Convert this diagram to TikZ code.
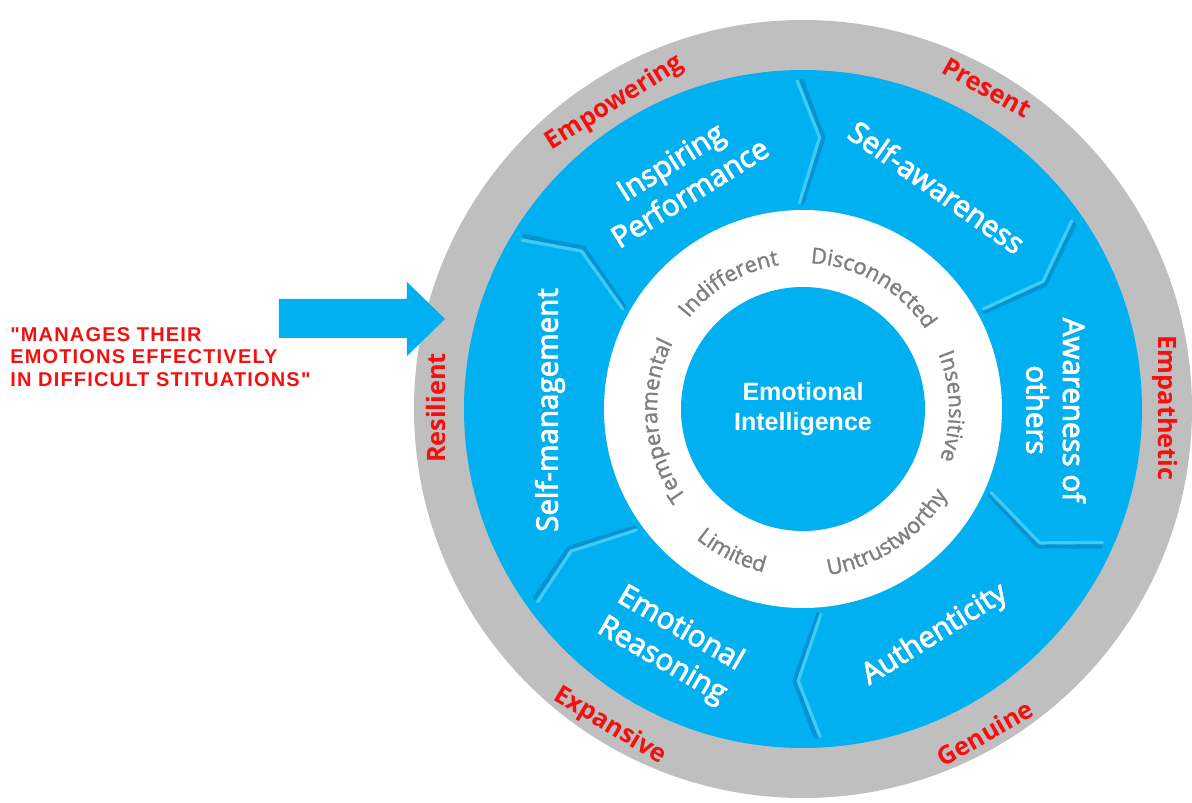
\documentclass[tikz,border=0pt]{standalone}
\usepackage{fontspec}
\setsansfont{Open Sans}
\newfontfamily\arialfont{Liberation Sans}
\newfontfamily\quotefont{Liberation Sans}[LetterSpace=6]
\newfontfamily\areafont{Open Sans}[FakeBold=3]
\newfontfamily\wordfont{Open Sans}[FakeBold=1.5]
\usetikzlibrary{decorations.text}

\definecolor{eiblue}{HTML}{00B0F0}
\definecolor{rimgrey}{HTML}{BFBFBF}
\definecolor{traitred}{HTML}{F50F0F}
\definecolor{wordgrey}{HTML}{7F7F7F}
\definecolor{edgelight}{HTML}{3ECBF6}
\definecolor{edgedark}{HTML}{0793CF}

\tikzset{
  area/.style={text=white, font=\areafont\fontsize{21}{26}\selectfont, align=center},
  trait/.style={text=traitred, font=\sffamily\bfseries\fontsize{18}{20}\selectfont},
  ringword/.style={decorate, decoration={text along path, text align=center,
      text={|\wordfont\fontsize{15.5}{18}\selectfont\color{wordgrey}|#1}}},
}

\begin{document}
\begin{tikzpicture}[x=0.025cm, y=0.025cm]
  \useasboundingbox (-803,-394) rectangle (389,409);

  % rings
  \fill[rimgrey] (0,0) circle (389);
  \fill[eiblue] (0,0) circle (339);
  \fill[white] (0,0) circle (199);
  \fill[eiblue] (0,0) circle (122);

  % chevron borders between the six areas
  \foreach \o/\k/\i in {91/86.5/91, 35/28/29, -24/-29.5/-24, -87/-91/-85, 216/211.5/216, 149/144.5/151} {
    \draw[edgedark, line width=3pt, line cap=round, line join=round]
      ({\o-0.8}:328) -- ({\k-0.8}:272) -- ({\i-0.8}:206);
    \draw[edgelight, line width=2.3pt, line cap=round, line join=round]
      (\o:328) -- (\k:272) -- (\i:206);
  }

  \node[text=white, align=center, font=\arialfont\bfseries\fontsize{17.8}{21.3}\selectfont] (core) at (0,0) {Emotional\\Intelligence};

  % words round the white ring
  \path[ringword=Indifferent] (160.5:146) arc[start angle=160.5, end angle=80.5, radius=146];
  \path[ringword=Disconnected] (100:146) arc[start angle=100, end angle=20, radius=146];
  \path[ringword=Insensitive] (41:146) arc[start angle=41, end angle=-39, radius=146];
  \path[ringword=Temperamental] (230:146) arc[start angle=230, end angle=140, radius=146];
  \path[ringword=Untrustworthy] (-101:168) arc[start angle=-101, end angle=-11, radius=168];
  \path[ringword=Limited] (203.5:168) arc[start angle=203.5, end angle=283.5, radius=168];

  \node[area, rotate=32] (inspiring) at (-123,232) {Inspiring\\Performance};
  \node[area, rotate=-35] (selfaware) at (134,222) {Self-awareness};
  \node[area, rotate=-90] (others) at (253,-1) {Awareness of\\others};
  \node[area, rotate=32] (authentic) at (132,-226) {Authenticity};
  \node[area, rotate=-30] (reasoning) at (-132,-236) {Emotional\\Reasoning};
  \node[area, rotate=90] (selfmanage) at (-253,-1) {Self-management};

  \node[trait, rotate=32] (empowering) at (-188,306) {Empowering};
  \node[trait, rotate=-29] (present) at (184,321) {Present};
  \node[trait, rotate=-90] (empathetic) at (362,1) {Empathetic};
  \node[trait, rotate=30] (genuine) at (182,-324) {Genuine};
  \node[trait, rotate=-31] (expansive) at (-193,-317) {Expansive};
  \node[trait, rotate=90] (resilient) at (-367,1) {Resilient};

  % pointer and quote
  \fill[eiblue] (-524,71) -- (-396,71) -- (-396,53) -- (-358,90) -- (-396,127)
    -- (-396,110) -- (-524,110) -- cycle;
  \node[anchor=west, inner sep=0, align=left, text=traitred,
    font=\quotefont\bfseries\fontsize{14.2}{16}\selectfont] (quote) at (-793,52)
    {"MANAGES THEIR\\EMOTIONS EFFECTIVELY\\IN DIFFICULT STITUATIONS"};
\end{tikzpicture}
\end{document}
